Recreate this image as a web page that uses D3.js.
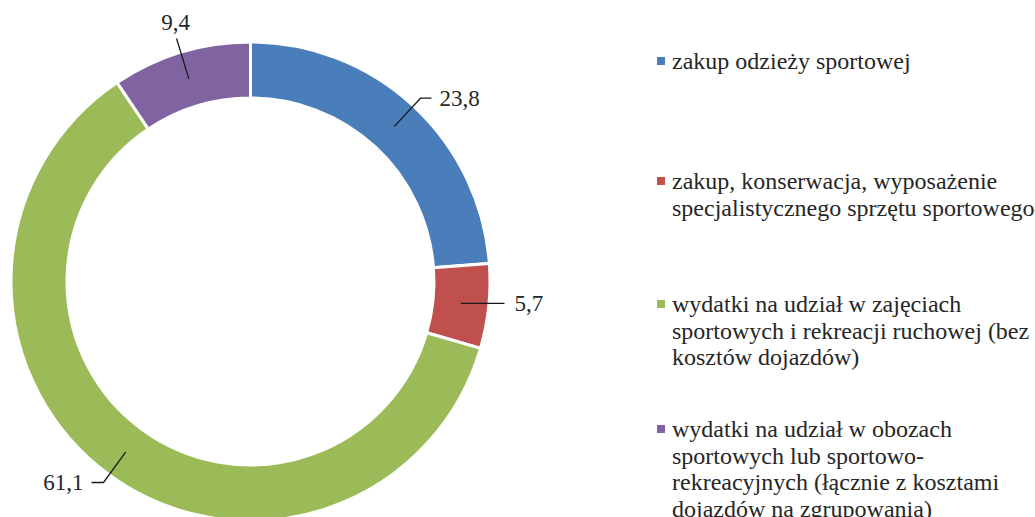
<!DOCTYPE html>
<html>
<head>
<meta charset="utf-8">
<script src="https://cdn.jsdelivr.net/npm/d3@7"></script>
<style>
  html, body { margin: 0; padding: 0; background: #fff; }
  svg { display: block; }
  text { font-family: "Liberation Serif", "Times New Roman", serif; fill: #262626; }
</style>
</head>
<body>
<svg id="chart" width="1035" height="517"></svg>
<script>
// Struktura wydatków na sport (%)
const categories = [
  "zakup odzieży sportowej",
  "zakup, konserwacja, wyposażenie specjalistycznego sprzętu sportowego",
  "wydatki na udział w zajęciach sportowych i rekreacji ruchowej (bez kosztów dojazdów)",
  "wydatki na udział w obozach sportowych lub sportowo-rekreacyjnych (łącznie z kosztami dojazdów na zgrupowania)"
];
const values = [23.8, 5.7, 61.1, 9.4];
const valueLabels = ["23,8", "5,7", "61,1", "9,4"];
const legendLines = [
  ["zakup odzieży sportowej"],
  ["zakup, konserwacja, wyposażenie", "specjalistycznego sprzętu sportowego"],
  ["wydatki na udział w zajęciach", "sportowych i rekreacji ruchowej (bez", "kosztów dojazdów)"],
  ["wydatki na udział w obozach", "sportowych lub sportowo-", "rekreacyjnych (łącznie z kosztami", "dojazdów na zgrupowania)"]
];
const colors = ["#4a7ebb", "#c0504d", "#9bbb59", "#8064a2"];

const svg = d3.select("#chart");
const cx = 250.5, cy = 281.5;
const outerR = 239.5, innerR = 183.5;

const color = d3.scaleOrdinal().domain(d3.range(values.length)).range(colors);

const pie = d3.pie().sort(null).value(d => d)(values);
const arc = d3.arc().innerRadius(innerR).outerRadius(outerR);

const g = svg.append("g").attr("transform", `translate(${cx},${cy})`);

g.selectAll("path.slice")
  .data(pie)
  .join("path")
  .attr("class", "slice")
  .attr("d", arc)
  .attr("fill", (d, i) => color(i))
  .attr("stroke", "#fff")
  .attr("stroke-width", 3)
  .attr("stroke-linejoin", "miter");

// Leader lines and value labels
const midR = (innerR + outerR) / 2;
const polar = (a, r) => [r * Math.sin(a), -r * Math.cos(a)];
// per-slice label layout: elbow radius, horizontal run, text placement
const labelLayout = [
  { elbowR: 250, run: 11, side: "right" },
  { elbowR: null, runTo: 254, side: "right" },
  { elbowR: 249, run: 12, side: "left" },
  { elbowR: 254, run: 0, side: "top" }
];

pie.forEach((d, i) => {
  const a = (d.startAngle + d.endAngle) / 2;
  const L = labelLayout[i];
  const p0 = polar(a, midR);
  let pts, tx, ty, anchor;
  if (L.elbowR === null) {
    const p1 = [L.runTo, p0[1]];
    pts = [p0, p1];
    tx = p1[0] + 10; ty = p1[1] + 8; anchor = "start";
  } else {
    const p1 = polar(a, L.elbowR);
    if (L.side === "top") {
      pts = [p0, p1];
      tx = p1[0] - 1; ty = p1[1] - 9; anchor = "middle";
    } else {
      const dir = L.side === "right" ? 1 : -1;
      const p2 = [p1[0] + dir * L.run, p1[1]];
      pts = [p0, p1, p2];
      tx = p2[0] + dir * 8; ty = p2[1] + 8; anchor = dir > 0 ? "start" : "end";
    }
  }
  g.append("path")
    .attr("d", d3.line()(pts))
    .attr("fill", "none")
    .attr("stroke", "#1a1a1a")
    .attr("stroke-width", 1.3);
  g.append("text")
    .attr("x", tx)
    .attr("y", ty)
    .attr("text-anchor", anchor)
    .attr("font-size", 23)
    .text(valueLabels[i]);
});

// Legend
const legendX = 657, textX = 672, lineH = 26.7;
const legendTop = [69, 189, 312, 437];
const legend = svg.append("g");
legendLines.forEach((lines, i) => {
  const y0 = legendTop[i];
  legend.append("rect")
    .attr("x", legendX)
    .attr("y", y0 - 12)
    .attr("width", 8)
    .attr("height", 8)
    .attr("fill", color(i));
  const t = legend.append("text")
    .attr("x", textX)
    .attr("y", y0)
    .attr("font-size", 24);
  lines.forEach((ln, j) => {
    t.append("tspan")
      .attr("x", textX)
      .attr("y", y0 + j * lineH)
      .text(ln);
  });
});
</script>
</body>
</html>
